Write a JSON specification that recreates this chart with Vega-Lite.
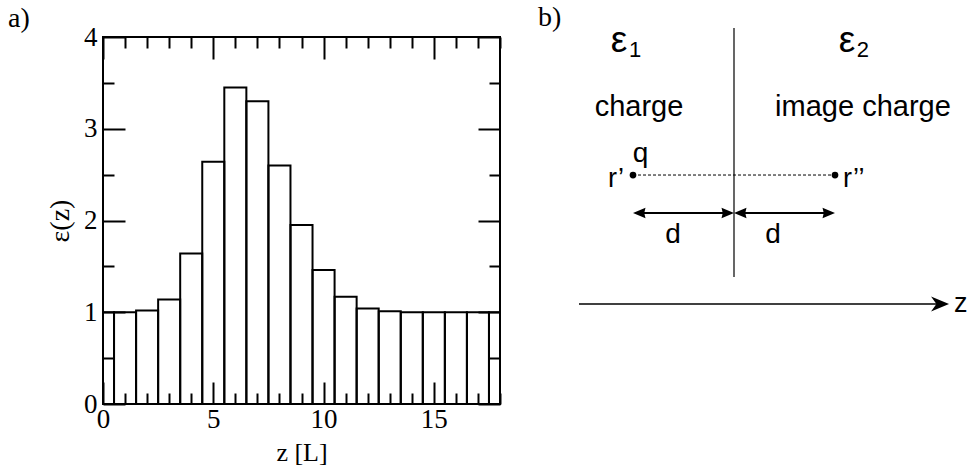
{
  "$schema": "https://vega.github.io/schema/vega-lite/v6.json",
  "padding": {"left": 7, "top": 4, "right": 0, "bottom": 0},
  "bounds": "flush",
  "spacing": 38,
  "config": {
    "view": {"stroke": null},
    "title": {"font": "Liberation Serif", "fontSize": 28, "fontWeight": "normal", "color": "black"}
  },
  "hconcat": [
    {
      "width": 397,
      "height": 367,
      "view": {"stroke": "black", "strokeWidth": 2},
      "title": {"text": "a)", "anchor": "start", "frame": "group", "dx": -95, "offset": -10},
      "data": {"values": [
        {"z0": -0.5, "z1": 0.5, "eps": 1.0},
        {"z0": 0.5, "z1": 1.5, "eps": 1.0},
        {"z0": 1.5, "z1": 2.5, "eps": 1.02},
        {"z0": 2.5, "z1": 3.5, "eps": 1.14},
        {"z0": 3.5, "z1": 4.5, "eps": 1.64},
        {"z0": 4.5, "z1": 5.5, "eps": 2.64},
        {"z0": 5.5, "z1": 6.5, "eps": 3.45},
        {"z0": 6.5, "z1": 7.5, "eps": 3.30},
        {"z0": 7.5, "z1": 8.5, "eps": 2.60},
        {"z0": 8.5, "z1": 9.5, "eps": 1.95},
        {"z0": 9.5, "z1": 10.5, "eps": 1.46},
        {"z0": 10.5, "z1": 11.5, "eps": 1.17},
        {"z0": 11.5, "z1": 12.5, "eps": 1.04},
        {"z0": 12.5, "z1": 13.5, "eps": 1.01},
        {"z0": 13.5, "z1": 14.5, "eps": 1.0},
        {"z0": 14.5, "z1": 15.5, "eps": 1.0},
        {"z0": 15.5, "z1": 16.5, "eps": 1.0},
        {"z0": 16.5, "z1": 17.5, "eps": 1.0},
        {"z0": 17.5, "z1": 18.5, "eps": 1.0}
      ]},
      "layer": [
        {
          "mark": {"type": "bar", "opacity": 0},
          "encoding": {
            "x": {"field": "z0", "type": "quantitative",
              "scale": {"domain": [0, 18], "nice": false, "zero": false},
              "axis": {"orient": "bottom", "values": [0,1,2,3,4,5,6,7,8,9,10,11,12,13,14,15,16,17,18],
                "tickSize": {"condition": {"test": "datum.value % 5 === 0", "value": -22}, "value": -11},
                "tickWidth": 2, "tickColor": "black", "domain": false, "grid": false, "zindex": 1,
                "labelExpr": "datum.value % 5 === 0 ? format(datum.value, 'd') : ''",
                "labelFont": "Liberation Serif", "labelFontSize": 27, "labelColor": "black",
                "labelPadding": 24, "labelFlush": false, "labelOverlap": false,
                "title": "z [L]", "titleFont": "Liberation Serif", "titleFontSize": 26,
                "titleFontWeight": "normal", "titleColor": "black", "titlePadding": -4}},
            "x2": {"field": "z1"},
            "y": {"field": "eps", "type": "quantitative",
              "scale": {"domain": [0, 4], "nice": false},
              "axis": {"orient": "left", "values": [0,0.5,1,1.5,2,2.5,3,3.5,4],
                "tickSize": {"condition": {"test": "datum.value % 1 === 0", "value": -22}, "value": -11},
                "tickWidth": 2, "tickColor": "black", "domain": false, "grid": false,
                "labels": false, "title": null, "zindex": 1}},
            "y2": {"datum": 0}
          }
        },
        {
          "mark": {"type": "bar", "fill": "white", "fillOpacity": 0, "stroke": "black", "strokeWidth": 2, "clip": true},
          "encoding": {
            "x": {"field": "z0", "type": "quantitative",
              "scale": {"domain": [0, 18], "nice": false, "zero": false},
              "axis": null},
            "x2": {"field": "z1"},
            "y": {"field": "eps", "type": "quantitative",
              "scale": {"domain": [0, 4], "nice": false},
              "axis": {"orient": "left", "values": [0, 1, 2, 3, 4], "ticks": false,
                "domain": false, "grid": false, "format": "d",
                "labelFont": "Liberation Serif", "labelFontSize": 27, "labelColor": "black",
                "labelPadding": 6, "labelFlush": false, "labelOverlap": false,
                "title": "ε(z)", "titleFont": "Liberation Serif", "titleFontSize": 28,
                "titleFontWeight": "normal", "titleColor": "black", "titlePadding": 9}},
            "y2": {"datum": 0}
          }
        },
        {
          "mark": {"type": "bar", "opacity": 0},
          "encoding": {
            "x": {"field": "z0", "type": "quantitative",
              "scale": {"domain": [0, 18], "nice": false, "zero": false},
              "axis": {"orient": "top", "values": [0,1,2,3,4,5,6,7,8,9,10,11,12,13,14,15,16,17,18],
                "tickSize": {"condition": {"test": "datum.value % 5 === 0", "value": -22}, "value": -11},
                "tickWidth": 2, "tickColor": "black", "domain": false, "grid": false,
                "labels": false, "title": null, "zindex": 1}},
            "x2": {"field": "z1"},
            "y": {"field": "eps", "type": "quantitative",
              "scale": {"domain": [0, 4], "nice": false},
              "axis": {"orient": "right", "values": [0,0.5,1,1.5,2,2.5,3,3.5,4],
                "tickSize": {"condition": {"test": "datum.value % 1 === 0", "value": -22}, "value": -11},
                "tickWidth": 2, "tickColor": "black", "domain": false, "grid": false,
                "labels": false, "title": null, "zindex": 1}},
            "y2": {"datum": 0}
          }
        }
      ],
      "resolve": {"axis": {"x": "independent", "y": "independent"}}
    },
    {
      "width": 423,
      "height": 367,
      "view": {"stroke": null},
      "title": {"text": "b)", "anchor": "start", "frame": "group", "dx": 0, "offset": -10},
      "encoding": {
        "x": {"field": "x", "type": "quantitative", "scale": {"domain": [-1.9406, 2.2475], "nice": false, "zero": false}, "axis": null},
        "y": {"field": "y", "type": "quantitative", "scale": {"domain": [-0.99, 2.6436], "nice": false, "zero": false}, "axis": null}
      },
      "layer": [
        {
          "data": {"values": [{"x": 0, "y": 0.267, "x2": 0, "y2": 2.733}]},
          "mark": {"type": "rule", "color": "black", "strokeWidth": 1.2},
          "encoding": {"x2": {"field": "x2"}, "y2": {"field": "y2"}}
        },
        {
          "data": {"values": [{"x": -1.535, "y": 0, "x2": 2.05, "y2": 0}]},
          "mark": {"type": "rule", "color": "black", "strokeWidth": 1.5},
          "encoding": {"x2": {"field": "x2"}, "y2": {"field": "y2"}}
        },
        {
          "data": {"values": [
            {"x": -0.95, "y": 0.90, "x2": -0.05, "y2": 0.90},
            {"x": 0.05, "y": 0.90, "x2": 0.95, "y2": 0.90}
          ]},
          "mark": {"type": "rule", "color": "black", "strokeWidth": 2},
          "encoding": {"x2": {"field": "x2"}, "y2": {"field": "y2"}}
        },
        {
          "data": {"values": [{"x": -1, "y": 1.277, "x2": 1, "y2": 1.277}]},
          "mark": {"type": "rule", "color": "black", "strokeWidth": 1, "strokeDash": [3, 2]},
          "encoding": {"x2": {"field": "x2"}, "y2": {"field": "y2"}}
        },
        {
          "data": {"values": [{"x": -1, "y": 1.277}, {"x": 1, "y": 1.277}]},
          "mark": {"type": "point", "shape": "circle", "filled": true, "color": "black", "opacity": 1, "size": 45},
          "encoding": {}
        },
        {
          "data": {"values": [{"x": -1, "y": 0.90}, {"x": 0, "y": 0.90}]},
          "mark": {"type": "point", "shape": "M0,0L1,-0.42L0.9,0L1,0.42Z", "filled": true, "color": "black", "opacity": 1, "size": 625},
          "encoding": {}
        },
        {
          "data": {"values": [{"x": 0, "y": 0.90}, {"x": 1, "y": 0.90}]},
          "mark": {"type": "point", "shape": "M0,0L-1,-0.42L-0.9,0L-1,0.42Z", "filled": true, "color": "black", "opacity": 1, "size": 625},
          "encoding": {}
        },
        {
          "data": {"values": [{"x": 2.129, "y": 0}]},
          "mark": {"type": "point", "shape": "M0,0L-1,-0.42L-0.7,0L-1,0.42Z", "filled": true, "color": "black", "opacity": 1, "size": 1296},
          "encoding": {}
        },
        {
          "data": {"values": [{"x": -1.139, "y": 2.495, "t": "ε"}, {"x": 1.119, "y": 2.495, "t": "ε"}]},
          "mark": {"type": "text", "font": "Liberation Sans", "fontSize": 37, "align": "center", "baseline": "alphabetic", "color": "black"},
          "encoding": {"text": {"field": "t"}}
        },
        {
          "data": {"values": [{"x": -0.980, "y": 2.446, "t": "1"}, {"x": 1.277, "y": 2.446, "t": "2"}]},
          "mark": {"type": "text", "font": "Liberation Sans", "fontSize": 22, "align": "center", "baseline": "alphabetic", "color": "black"},
          "encoding": {"text": {"field": "t"}}
        },
        {
          "data": {"values": [
            {"x": -0.941, "y": 1.861, "t": "charge"},
            {"x": 1.277, "y": 1.861, "t": "image charge"}
          ]},
          "mark": {"type": "text", "font": "Liberation Sans", "fontSize": 29, "align": "center", "baseline": "alphabetic", "color": "black"},
          "encoding": {"text": {"field": "t"}}
        },
        {
          "data": {"values": [
            {"x": -0.604, "y": 0.604, "t": "d"},
            {"x": 0.386, "y": 0.604, "t": "d"},
            {"x": -0.926, "y": 1.41, "t": "q"}
          ]},
          "mark": {"type": "text", "font": "Liberation Sans", "fontSize": 28, "align": "center", "baseline": "alphabetic", "color": "black"},
          "encoding": {"text": {"field": "t"}}
        },
        {
          "data": {"values": [{"x": -1.089, "y": 1.158, "t": "r’"}]},
          "mark": {"type": "text", "font": "Liberation Sans", "fontSize": 27, "align": "right", "baseline": "alphabetic", "color": "black"},
          "encoding": {"text": {"field": "t"}}
        },
        {
          "data": {"values": [{"x": 1.079, "y": 1.158, "t": "r’’"}, {"x": 2.178, "y": -0.079, "t": "z"}]},
          "mark": {"type": "text", "font": "Liberation Sans", "fontSize": 27, "align": "left", "baseline": "alphabetic", "color": "black"},
          "encoding": {"text": {"field": "t"}}
        }
      ]
    }
  ]
}
